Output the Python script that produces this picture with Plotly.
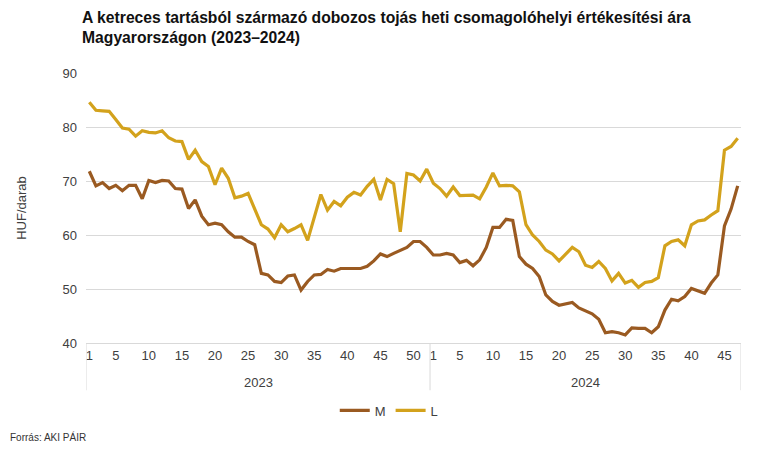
import plotly.graph_objects as go

years = ["2023", "2024"]
weeks_2023 = list(range(1, 53))
weeks_2024 = list(range(1, 48))

m_2023 = [71.8, 69.1, 69.7, 68.6, 69.2, 68.2, 69.2, 69.2, 66.7, 70.1,
          69.7, 70.1, 70.0, 68.6, 68.5, 64.9, 66.5, 63.5, 61.9, 62.2,
          61.9, 60.6, 59.6, 59.6, 58.8, 58.2, 52.9, 52.6, 51.4, 51.2,
          52.4, 52.6, 49.8, 51.4, 52.6, 52.7, 53.6, 53.3, 53.8, 53.8,
          53.8, 53.8, 54.2, 55.2, 56.5, 56.0, 56.6, 57.2, 57.7, 58.8,
          58.8, 57.7]
m_2024 = [56.3, 56.3, 56.6, 56.3, 54.9, 55.3, 54.3, 55.4, 57.7, 61.4,
          61.4, 62.9, 62.7, 56.0, 54.6, 53.8, 52.3, 48.9, 47.7, 47.0,
          47.2, 47.5, 46.5, 46.0, 45.4, 44.4, 41.9, 42.1, 41.9, 41.5,
          42.8, 42.7, 42.7, 41.9, 43.0, 46.1, 48.1, 47.8, 48.6, 50.1,
          49.7, 49.2, 51.1, 52.6, 61.7, 64.8, 69.1]

l_2023 = [84.6, 83.1, 83.0, 82.9, 81.4, 79.8, 79.6, 78.3, 79.3, 79.0,
          78.9, 79.3, 78.0, 77.4, 77.3, 74.0, 75.7, 73.6, 72.7, 69.3,
          72.4, 70.5, 66.9, 67.2, 67.7, 64.9, 61.9, 61.1, 59.5, 61.9,
          60.6, 61.2, 61.9, 59.0, 63.3, 67.5, 64.6, 66.2, 65.4, 67.0,
          67.9, 67.4, 69.0, 70.3, 66.5, 70.3, 69.5, 60.6, 71.4, 71.1,
          70.0, 72.2]
l_2024 = [69.6, 68.6, 67.2, 68.9, 67.3, 67.3, 67.4, 66.7, 68.9, 71.5,
          69.1, 69.2, 69.1, 68.0, 61.9, 60.0, 58.8, 57.2, 56.5, 55.2,
          56.5, 57.7, 56.9, 54.4, 54.0, 55.1, 53.8, 51.5, 52.9, 51.1,
          51.6, 50.3, 51.2, 51.4, 52.1, 58.0, 58.8, 59.1, 58.0, 61.9,
          62.6, 62.8, 63.7, 64.5, 75.7, 76.4, 77.9]

tick_weeks_2023 = [1, 5, 10, 15, 20, 25, 30, 35, 40, 45, 50]
tick_weeks_2024 = [1, 5, 10, 15, 20, 25, 30, 35, 40, 45]

series_names = ["M", "L"]
series_colors = ["#9A5A21", "#D3A21C"]

title_text = ("<b>A ketreces tartásból származó dobozos tojás heti csomagolóhelyi "
              "értékesítési ára<br>Magyarországon (2023–2024)</b>")
y_title = "HUF/darab"
source_text = "Forrás: AKI PÁIR"

# sequential index positions along the category axis
n23 = len(weeks_2023)
idx = list(range(n23 + len(weeks_2024)))
m_all = m_2023 + m_2024
l_all = l_2023 + l_2024

tickvals = [w - 1 for w in tick_weeks_2023] + [n23 + w - 1 for w in tick_weeks_2024]
ticktext = [str(w) for w in tick_weeks_2023] + [str(w) for w in tick_weeks_2024]

font_family = "Liberation Sans, Arial, sans-serif"

fig = go.Figure()
for name, vals, col in zip(series_names, [m_all, l_all], series_colors):
    fig.add_trace(go.Scatter(x=idx, y=vals, mode="lines", name=name,
                             line=dict(color=col, width=3.2)))

xmin, xmax = -0.5, len(idx) - 0.5
sep = n23 - 0.5

fig.update_layout(
    width=781, height=453,
    margin=dict(l=86, r=40, t=73, b=110),
    paper_bgcolor="white", plot_bgcolor="white",
    font=dict(family=font_family, size=13, color="#404040"),
    xaxis=dict(range=[xmin, xmax], tickvals=tickvals, ticktext=ticktext,
               showgrid=False, zeroline=False, showline=True,
               linecolor="#d9d9d9", linewidth=1, ticks="", automargin=False,
               tickfont=dict(size=13, color="#404040")),
    yaxis=dict(range=[40, 90], dtick=10, showgrid=True, gridcolor="#d9d9d9",
               gridwidth=1, zeroline=False, showline=False, ticks="",
               automargin=False, ticklabelstandoff=8,
               tickfont=dict(size=13, color="#404040"),
               title=dict(text=y_title, standoff=32,
                          font=dict(size=13, color="#404040"))),
    legend=dict(orientation="h", x=0.463, xanchor="center", y=-0.25,
                yanchor="middle", font=dict(size=13, color="#404040"),
                bgcolor="rgba(0,0,0,0)"),
    showlegend=True,
)

# title as a paper annotation (handles two lines cleanly)
fig.add_annotation(text=title_text, xref="paper", yref="paper",
                   x=(80 - 86) / 655, y=(343 - 7) / 270, xanchor="left",
                   yanchor="top", align="left", showarrow=False,
                   font=dict(family=font_family, size=15.7, color="#111111"))

# year group separators
for xv in [xmin, sep, xmax]:
    fig.add_shape(type="line", xref="x", yref="paper", x0=xv, x1=xv,
                  y0=0, y1=-0.175, line=dict(color="#d9d9d9", width=1))

# year labels
for yr, center in zip(years, [(xmin + sep) / 2, (sep + xmax) / 2]):
    fig.add_annotation(text=yr, xref="x", yref="paper", x=center, y=-0.145,
                       showarrow=False, yanchor="middle",
                       font=dict(size=13, color="#404040"))

fig.add_annotation(text=source_text, xref="paper", yref="paper",
                   x=(8 - 86) / 655, y=-(437 - 343) / 270, xanchor="left",
                   yanchor="middle", showarrow=False,
                   font=dict(size=10, color="#333333"))

fig.write_html("out.html", config={"displayModeBar": False},
               post_script="document.body.style.margin='0';")
